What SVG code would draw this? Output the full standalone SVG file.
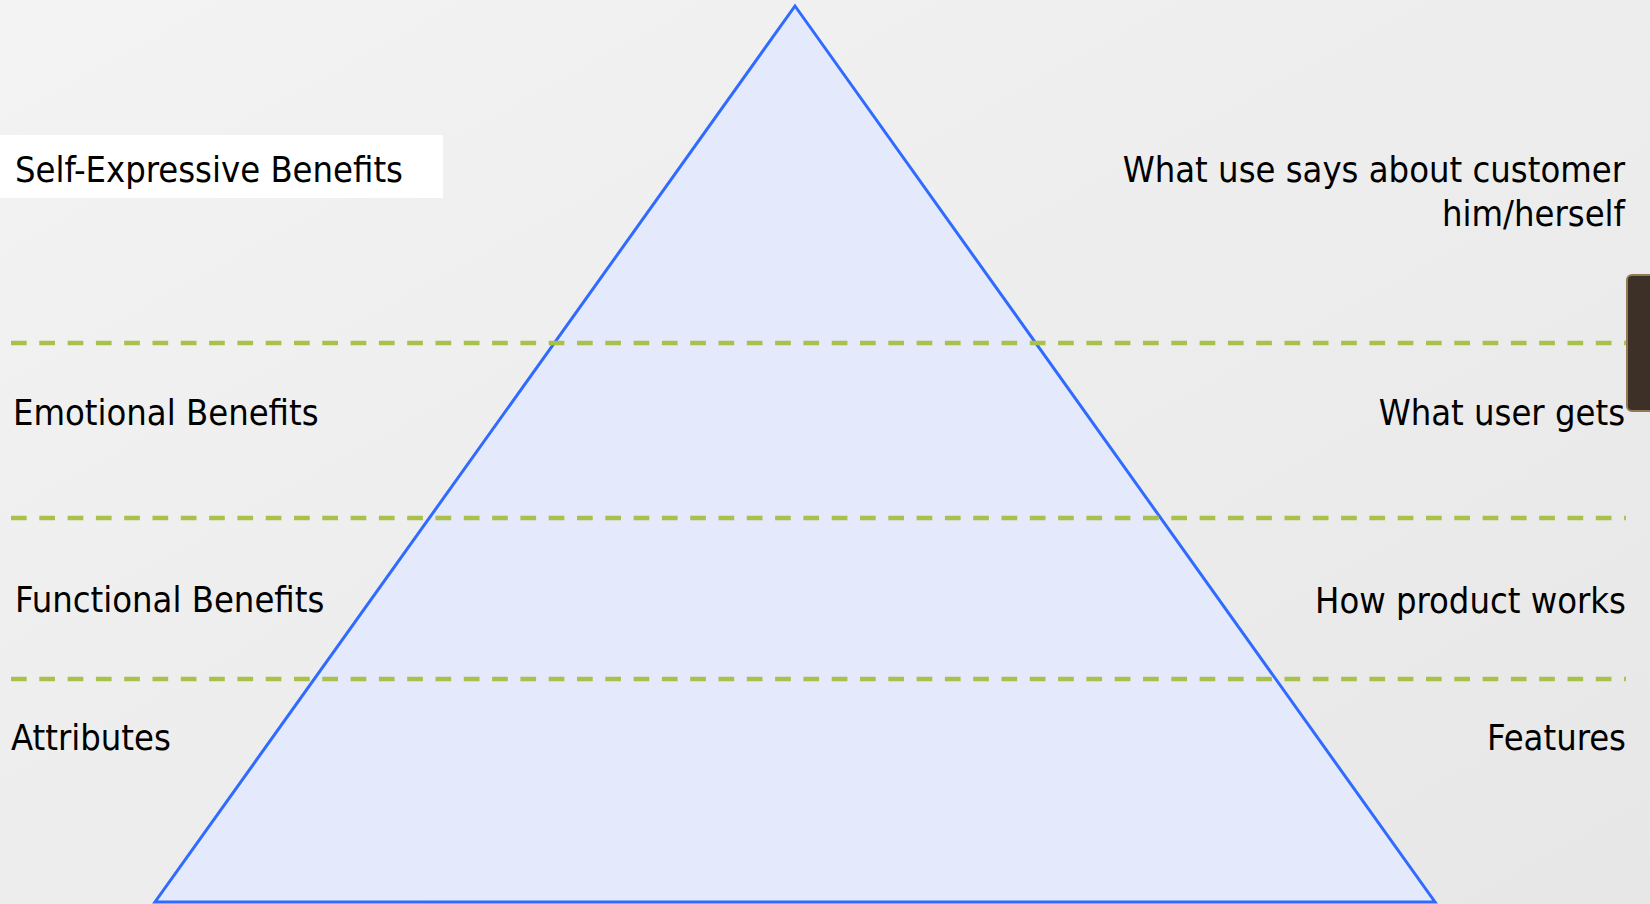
<svg xmlns="http://www.w3.org/2000/svg" width="1650" height="904" viewBox="0 0 1650 904">
  <defs>
    <linearGradient id="bg" x1="0" y1="0" x2="1" y2="1">
      <stop offset="0" stop-color="#f3f3f3"/>
      <stop offset="1" stop-color="#e7e7e7"/>
    </linearGradient>
    <style>
      .lbl { font-family: 'DejaVu Sans Condensed', 'DejaVu Sans', 'Liberation Sans', sans-serif; font-stretch: condensed; font-size: 36px; fill: #000; }
      .end { text-anchor: end; }
      .tier { fill: none; stroke: #a9c04a; stroke-width: 4.5; stroke-dasharray: 15.7 12.6; }
    </style>
  </defs>

  <!-- backdrop -->
  <rect x="0" y="0" width="1650" height="904" fill="url(#bg)"/>

  <!-- pyramid -->
  <g id="pyramid">
    <polygon points="795,6 1435,902 155,902" fill="#e4e9fb" stroke="#2f6bff" stroke-width="3" stroke-linejoin="miter"/>
  </g>

  <!-- tier separators -->
  <g id="connectors">
    <line class="tier" x1="11" y1="343" x2="1626" y2="343"/>
    <line class="tier" x1="11" y1="518" x2="1626" y2="518"/>
    <line class="tier" x1="11" y1="679" x2="1626" y2="679"/>
  </g>

  <!-- side tab -->
  <g id="tab">
    <rect x="1627" y="275" width="30" height="136" rx="5" fill="#3d3127" stroke="#8f7a52" stroke-width="2"/>
  </g>

  <!-- left-hand tier labels -->
  <g id="self-expressive">
    <rect x="0" y="135" width="443" height="63" fill="#ffffff"/>
    <text class="lbl" x="15" y="182">Self-Expressive Benefits</text>
  </g>
  <g id="emotional">
    <text class="lbl" x="13" y="425">Emotional Benefits</text>
  </g>
  <g id="functional">
    <text class="lbl" x="15" y="612">Functional Benefits</text>
  </g>
  <g id="attributes">
    <text class="lbl" x="11" y="750">Attributes</text>
  </g>

  <!-- right-hand tier descriptions -->
  <g id="says-about">
    <text class="lbl end" x="1625" y="182">What use says about customer</text>
    <text class="lbl end" x="1625" y="226">him/herself</text>
  </g>
  <g id="user-gets">
    <text class="lbl end" x="1625" y="425">What user gets</text>
  </g>
  <g id="product-works">
    <text class="lbl end" x="1626" y="613">How product works</text>
  </g>
  <g id="features">
    <text class="lbl end" x="1626" y="750">Features</text>
  </g>
</svg>
